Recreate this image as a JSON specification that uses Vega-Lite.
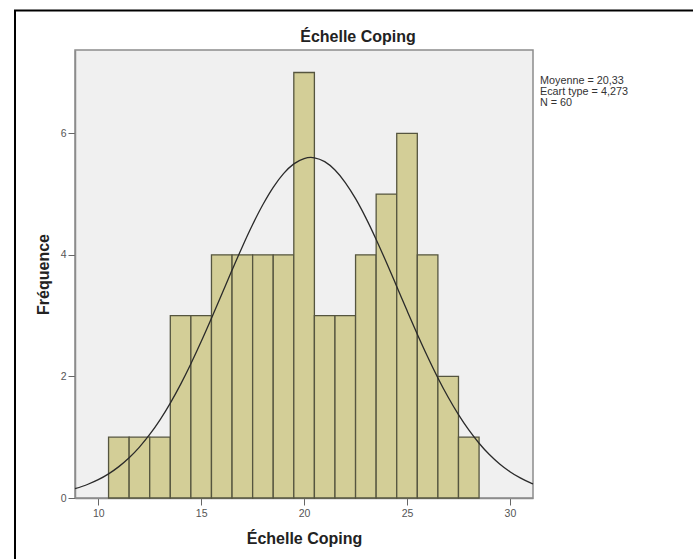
{
  "$schema": "https://vega.github.io/schema/vega-lite/v6.json",
  "autosize": "none",
  "width": 458,
  "height": 448,
  "padding": {"left": 75, "top": 50, "right": 160, "bottom": 61},
  "background": "white",
  "title": {
    "text": "Échelle Coping",
    "anchor": "middle",
    "frame": "group",
    "dx": 54,
    "dy": 44,
    "offset": 8,
    "font": "Liberation Sans",
    "fontSize": 16,
    "fontWeight": "bold",
    "color": "#222222"
  },
  "config": {
    "view": {"fill": "#f0f0f0", "stroke": "#8c8c8c", "strokeWidth": 1.5},
    "axis": {
      "grid": false,
      "domainColor": "#8c8c8c",
      "domainWidth": 1.5,
      "tickColor": "#666666",
      "tickSize": 7,
      "labelFont": "Liberation Sans",
      "labelFontSize": 10.5,
      "labelColor": "#555555",
      "titleFont": "Liberation Sans",
      "titleFontSize": 16,
      "titleFontWeight": "bold",
      "titleColor": "#222222"
    }
  },
  "datasets": {
    "bins": [
      {"bin_start": 10.5, "bin_end": 11.5, "count": 1},
      {"bin_start": 11.5, "bin_end": 12.5, "count": 1},
      {"bin_start": 12.5, "bin_end": 13.5, "count": 1},
      {"bin_start": 13.5, "bin_end": 14.5, "count": 3},
      {"bin_start": 14.5, "bin_end": 15.5, "count": 3},
      {"bin_start": 15.5, "bin_end": 16.5, "count": 4},
      {"bin_start": 16.5, "bin_end": 17.5, "count": 4},
      {"bin_start": 17.5, "bin_end": 18.5, "count": 4},
      {"bin_start": 18.5, "bin_end": 19.5, "count": 4},
      {"bin_start": 19.5, "bin_end": 20.5, "count": 7},
      {"bin_start": 20.5, "bin_end": 21.5, "count": 3},
      {"bin_start": 21.5, "bin_end": 22.5, "count": 3},
      {"bin_start": 22.5, "bin_end": 23.5, "count": 4},
      {"bin_start": 23.5, "bin_end": 24.5, "count": 5},
      {"bin_start": 24.5, "bin_end": 25.5, "count": 6},
      {"bin_start": 25.5, "bin_end": 26.5, "count": 4},
      {"bin_start": 26.5, "bin_end": 27.5, "count": 2},
      {"bin_start": 27.5, "bin_end": 28.5, "count": 1}
    ],
    "normal": [
      {"score": 8.87, "freq": 0.153},
      {"score": 9.5, "freq": 0.226},
      {"score": 10.0, "freq": 0.301},
      {"score": 10.5, "freq": 0.397},
      {"score": 11.0, "freq": 0.516},
      {"score": 11.5, "freq": 0.662},
      {"score": 12.0, "freq": 0.838},
      {"score": 12.5, "freq": 1.045},
      {"score": 13.0, "freq": 1.286},
      {"score": 13.5, "freq": 1.562},
      {"score": 14.0, "freq": 1.870},
      {"score": 14.5, "freq": 2.209},
      {"score": 15.0, "freq": 2.573},
      {"score": 15.5, "freq": 2.957},
      {"score": 16.0, "freq": 3.353},
      {"score": 16.5, "freq": 3.749},
      {"score": 17.0, "freq": 4.135},
      {"score": 17.5, "freq": 4.499},
      {"score": 18.0, "freq": 4.828},
      {"score": 18.5, "freq": 5.111},
      {"score": 19.0, "freq": 5.337},
      {"score": 19.5, "freq": 5.497},
      {"score": 20.0, "freq": 5.585},
      {"score": 20.33, "freq": 5.602},
      {"score": 20.5, "freq": 5.597},
      {"score": 21.0, "freq": 5.533},
      {"score": 21.5, "freq": 5.396},
      {"score": 22.0, "freq": 5.190},
      {"score": 22.5, "freq": 4.924},
      {"score": 23.0, "freq": 4.608},
      {"score": 23.5, "freq": 4.254},
      {"score": 24.0, "freq": 3.874},
      {"score": 24.5, "freq": 3.480},
      {"score": 25.0, "freq": 3.083},
      {"score": 25.5, "freq": 2.694},
      {"score": 26.0, "freq": 2.323},
      {"score": 26.5, "freq": 1.975},
      {"score": 27.0, "freq": 1.657},
      {"score": 27.5, "freq": 1.371},
      {"score": 28.0, "freq": 1.119},
      {"score": 28.5, "freq": 0.901},
      {"score": 29.0, "freq": 0.715},
      {"score": 29.5, "freq": 0.560},
      {"score": 30.0, "freq": 0.433},
      {"score": 30.5, "freq": 0.330},
      {"score": 31.0, "freq": 0.248},
      {"score": 31.12, "freq": 0.231}
    ],
    "stats": [
      {"lines": ["Moyenne = 20,33", "Ecart type = 4,273", "N = 60"]}
    ]
  },
  "layer": [
    {
      "description": "outer chart frame",
      "data": {"values": [{}]},
      "mark": {"type": "rect", "fill": null, "stroke": "#000000", "strokeWidth": 2, "clip": false},
      "encoding": {
        "x": {"datum": 5.955, "type": "quantitative"},
        "x2": {"datum": 60},
        "y": {"datum": 8.02, "type": "quantitative"},
        "y2": {"datum": -5}
      }
    },
    {
      "data": {"name": "bins"},
      "mark": {"type": "rect", "fill": "#d3ce97", "stroke": "#55553f", "strokeWidth": 1.3},
      "encoding": {
        "x": {
          "field": "bin_start",
          "type": "quantitative",
          "scale": {"domain": [8.87, 31.12], "nice": false, "zero": false},
          "axis": {"values": [10, 15, 20, 25, 30], "format": "d", "title": "Échelle Coping", "titlePadding": 12, "labelPadding": 3}
        },
        "x2": {"field": "bin_end"},
        "y": {
          "field": "count",
          "type": "quantitative",
          "scale": {"domain": [0, 7.37], "nice": false, "zero": false},
          "axis": {"values": [0, 2, 4, 6], "format": "d", "title": "Fréquence", "titlePadding": 9, "labelPadding": 2}
        },
        "y2": {"datum": 0}
      }
    },
    {
      "data": {"name": "normal"},
      "mark": {"type": "line", "color": "#2a2a2a", "strokeWidth": 1.3, "interpolate": "monotone"},
      "encoding": {
        "x": {"field": "score", "type": "quantitative"},
        "y": {"field": "freq", "type": "quantitative"}
      }
    },
    {
      "data": {"name": "stats"},
      "mark": {
        "type": "text",
        "align": "left",
        "baseline": "middle",
        "font": "Liberation Sans",
        "fontSize": 10.8,
        "lineHeight": 11.3,
        "color": "#333333",
        "clip": false
      },
      "encoding": {
        "x": {"datum": 31.46, "type": "quantitative"},
        "y": {"datum": 6.865, "type": "quantitative"},
        "text": {"field": "lines"}
      }
    }
  ]
}
